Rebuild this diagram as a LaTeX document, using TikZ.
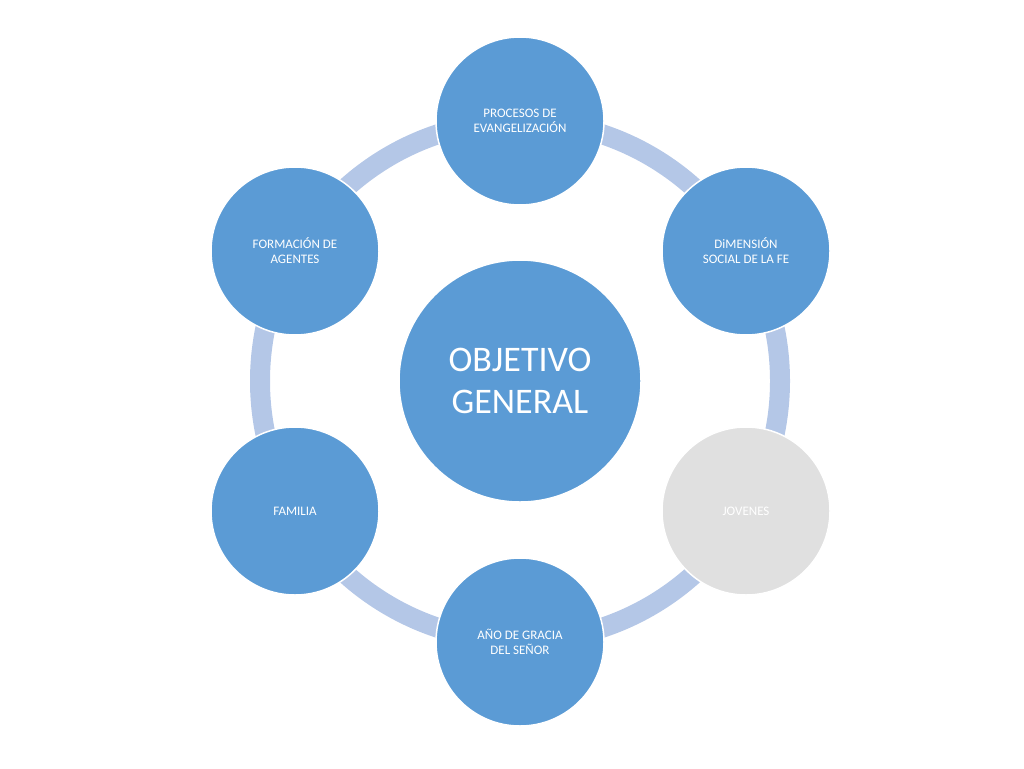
\documentclass[tikz,border=0pt]{standalone}
\usepackage{fontspec}
\setmainfont{Carlito}
\usetikzlibrary{positioning}
\definecolor{bubble}{HTML}{5B9BD5}
\definecolor{ringc}{HTML}{B4C7E7}
\definecolor{dim}{HTML}{E0E0E0}
\begin{document}
\begin{tikzpicture}[x=1pt,y=-1pt]
\tikzstyle{cir} = [circle,fill=bubble,draw=white,line width=1.5pt,minimum size=168pt,inner sep=0pt,text=white,font=\fontsize{13}{15}\selectfont,align=center]
\tikzstyle{hub} = [cir,minimum size=242pt,font=\fontsize{36}{42}\selectfont]
\useasboundingbox (0,0) rectangle (1024,768);

\coordinate (c) at (520,381);
\draw [ringc,line width=20pt] (c) circle (260);

\node[hub](obj) at (c)			{OBJETIVO\\GENERAL};
\node[cir](procesos) at (520,121)		{PROCESOS DE\\EVANGELIZACIÓN};
\node[cir](social) at (746,251)		{DiMENSIÓN\\SOCIAL DE LA FE};
\node[cir,fill=dim](jovenes) at (746,511)		{JOVENES};
\node[cir](gracia) at (520,642)		{AÑO DE GRACIA\\DEL SEÑOR};
\node[cir](familia) at (295,511)		{FAMILIA};
\node[cir](agentes) at (295,251)		{FORMACIÓN DE\\AGENTES};

\end{tikzpicture}
\end{document}
